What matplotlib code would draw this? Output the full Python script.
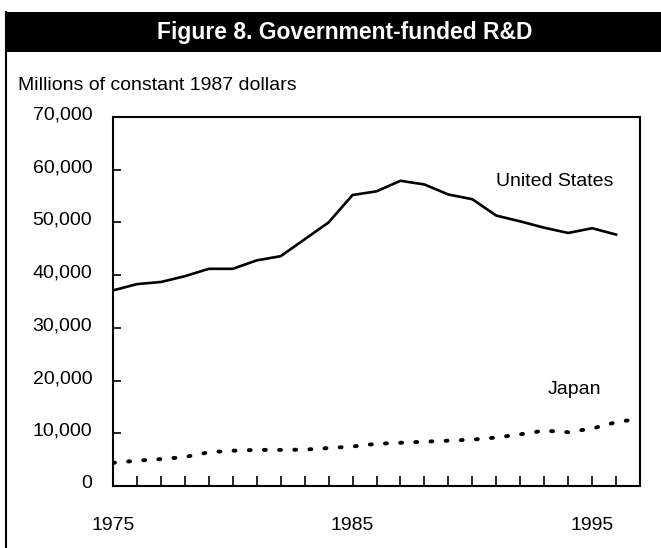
import matplotlib
matplotlib.use("Agg")
import matplotlib.pyplot as plt
import matplotlib.transforms as mtransforms
from matplotlib.patches import Rectangle
from matplotlib.lines import Line2D

years = list(range(1975, 1998))
us_years = list(range(1975, 1997))
us_values = [37100, 38300, 38700, 39800, 41200, 41200, 42800, 43600, 46800,
             50000, 55200, 55900, 57900, 57200, 55300, 54400, 51300, 50200,
             49000, 48000, 48900, 47700]
japan_values = [4400, 4800, 5100, 5500, 6400, 6700, 6850, 6850, 6900, 7200,
                7500, 8000, 8200, 8400, 8600, 8800, 9200, 9800, 10500, 10200,
                10900, 12100, 12800]

y_ticks = [0, 10000, 20000, 30000, 40000, 50000, 60000, 70000]
x_labels = {1975: "1975", 1985: "1985", 1995: "1995"}

FONT = ["Liberation Sans Narrow", "Liberation Sans", "DejaVu Sans"]
plt.rcParams["font.family"] = FONT

W, H = 661, 548
fig = plt.figure(figsize=(W / 100, H / 100), dpi=100)
fig.patch.set_facecolor("white")

# frame: black title bar and left rule
fig.patches.append(Rectangle((5 / W, 1 - 52 / H), 1 - 5 / W, 40 / H,
                             transform=fig.transFigure, facecolor="black",
                             edgecolor="none"))
fig.lines.append(Line2D([6 / W, 6 / W], [0, 1 - 12 / H], transform=fig.transFigure,
                        color="black", lw=1.5))
fig.text(345 / W, 1 - 32 / H, "Figure 8. Government-funded R&D", color="white",
         fontsize=16.5, fontweight="bold", ha="center", va="center")
fig.text(18 / W, 1 - 85 / H, "Millions of constant 1987 dollars",
         fontsize=14, ha="left", va="center")

ax = fig.add_axes([113 / W, 1 - 486 / H, (640 - 113) / W, (486 - 117) / H])
ax.plot(us_years, us_values, color="black", lw=1.9, solid_joinstyle="round")
ax.plot(years, japan_values, color="black", lw=2.8,
        linestyle=(0, (0.5, 3.4)), dash_capstyle="round")

ax.text(1993.45, 57800, "United States", fontsize=14, ha="center", va="center")
ax.text(1994.25, 18300, "Japan", fontsize=14, ha="center", va="center")

ax.set_xlim(1975, 1997)
ax.set_ylim(0, 70000)
ax.set_yticks(y_ticks)
ax.set_yticklabels([f"{v:,}" for v in y_ticks])
ax.set_xticks(years[:-1])
ax.set_xticklabels([x_labels.get(y, "") for y in years[:-1]])

ax.tick_params(axis="y", direction="in", length=6, width=1.2, pad=15, labelsize=14)
ax.tick_params(axis="x", direction="in", length=7, width=1.2, pad=22, labelsize=14)
offset = mtransforms.ScaledTranslation(0, 4 / 100, fig.dpi_scale_trans)
for lab in ax.get_yticklabels():
    lab.set_transform(lab.get_transform() + offset)
for s in ax.spines.values():
    s.set_linewidth(1.5)

fig.savefig("out.png", dpi=100)
